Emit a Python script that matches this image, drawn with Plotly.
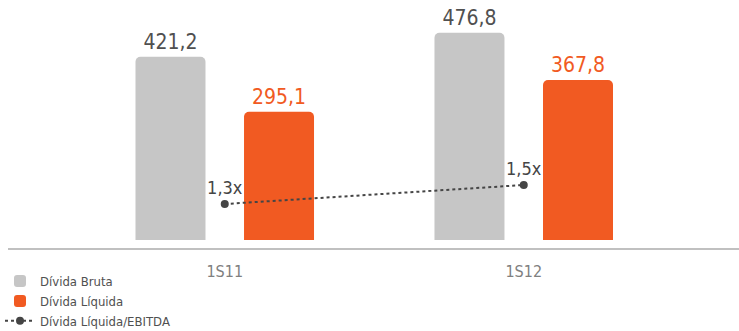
import plotly.graph_objects as go

categories = ["1S11", "1S12"]
divida_bruta = [421.2, 476.8]
divida_liquida = [295.1, 367.8]
divida_ebitda = [1.3, 1.5]

GRAY = "#c6c6c6"
ORANGE = "#f15a22"
DARK = "#454545"
FONT = "DejaVu Sans Condensed, Liberation Sans Narrow, Roboto, sans-serif"

fig = go.Figure()
fig.add_trace(go.Bar(
    x=categories, y=divida_bruta, name="Dívida Bruta",
    marker=dict(color=GRAY, line=dict(width=0)),
    texttemplate="%{y:.1f}", textposition="outside",
    textfont=dict(size=21, color="#505050", family=FONT),
    cliponaxis=False,
))
fig.add_trace(go.Bar(
    x=categories, y=divida_liquida, name="Dívida Líquida",
    marker=dict(color=ORANGE, line=dict(width=0)),
    texttemplate="%{y:.1f}", textposition="outside",
    textfont=dict(size=21, color=ORANGE, family=FONT),
    cliponaxis=False,
))
fig.add_trace(go.Scatter(
    x=categories, y=divida_ebitda, name="Dívida Líquida/EBITDA",
    yaxis="y2", mode="lines+markers+text",
    line=dict(color=DARK, width=2, dash="dot"),
    marker=dict(color=DARK, size=8),
    texttemplate="%{y:.1f}x", textposition="top center",
    textfont=dict(size=18, color=DARK, family=FONT),
    cliponaxis=False,
))

fig.update_layout(
    width=739, height=331,
    margin=dict(l=8, r=0, t=0, b=83, autoexpand=False),
    paper_bgcolor="white", plot_bgcolor="white",
    separators=",.",
    barmode="group", bargap=0.274, bargroupgap=0.355,
    barcornerradius=5,
    font=dict(family=FONT, color="#555555"),
    showlegend=True,
    legend=dict(
        orientation="v", xref="container", yref="container",
        x=0.0, y=0.196, xanchor="left", yanchor="top",
        font=dict(size=13, color="#505050", family=FONT),
        itemwidth=30, tracegroupgap=0, bgcolor="rgba(0,0,0,0)",
        traceorder="normal",
    ),
    xaxis=dict(
        type="category", range=[-0.725, 1.72],
        showline=True, linecolor="#c0c0c0", linewidth=2,
        showgrid=False, zeroline=False, ticks="",
        ticklabelstandoff=8,
        tickfont=dict(size=16, color="#808080", family=FONT),
    ),
    yaxis=dict(
        range=[-18.4, 552], visible=False, showgrid=False, zeroline=False,
    ),
    yaxis2=dict(
        range=[0.837, 3.447], overlaying="y", side="right",
        visible=False, showgrid=False, zeroline=False,
    ),
)

fig.write_html("out.html")
